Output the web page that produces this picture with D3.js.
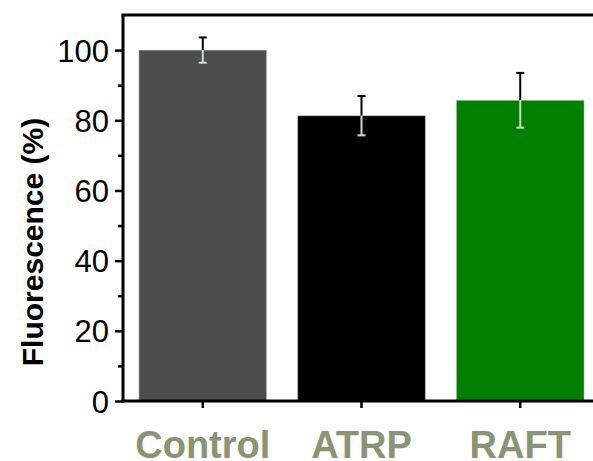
<!DOCTYPE html>
<html lang="en">
<head>
<meta charset="UTF-8">
<title>fluorescence bars</title>
<script src="https://cdnjs.cloudflare.com/ajax/libs/d3/7.8.5/d3.min.js"></script>
<style>
  * { margin: 0; padding: 0; }
  body { background: #fff; }
  svg { display: block; font-family: "Liberation Sans", Arial, sans-serif; }
</style>
</head>
<body>
<svg id="chart" width="593" height="461"></svg>
<script>
  // data
  var categories = ['Control', 'ATRP', 'RAFT'];
  var values = [100, 81.3, 85.7];
  var errors = [3.6, 5.6, 7.8];
  var barColors = ['#4d4d4d', '#000000', '#007f00'];
  var yTicks = [0, 20, 40, 60, 80, 100];
  var yMinorTicks = [10, 30, 50, 70, 90];

  var svg = d3.select('#chart');
  // note: "top" clashes with window.top, so use plot* names
  var plotLeft = 123, plotRight = 600, plotBottom = 401, plotTop = 15;

  var x = d3.scaleBand()
    .domain(categories)
    .range([plotLeft, plotRight])
    .paddingInner(0.195)
    .paddingOuter(0.1);

  var y = d3.scaleLinear()
    .domain([0, 110])
    .range([plotBottom, plotTop]);

  // bars
  svg.selectAll('rect.bar')
    .data(values)
    .enter()
    .append('rect')
    .attr('class', 'bar')
    .attr('x', function(d, i) { return x(categories[i]); })
    .attr('y', function(d) { return y(d); })
    .attr('width', x.bandwidth())
    .attr('height', function(d) { return y(0) - y(d); })
    .style('fill', function(d, i) { return barColors[i]; })
    .style('stroke', '#d8e4d0')
    .style('stroke-opacity', 0.5)
    .style('stroke-width', 1);

  // error bars: black above the bar, light inside it
  var capW = 4;
  var err = svg.selectAll('g.err')
    .data(values)
    .enter()
    .append('g')
    .attr('class', 'err')
    .attr('transform', function(d, i) {
      return 'translate(' + (x(categories[i]) + x.bandwidth() / 2) + ',0)';
    });

  err.append('line')
    .attr('x1', 0).attr('x2', 0)
    .attr('y1', function(d, i) { return y(d + errors[i]); })
    .attr('y2', function(d) { return y(d); })
    .style('stroke', '#000').style('stroke-width', 2);
  err.append('line')
    .attr('x1', -capW).attr('x2', capW)
    .attr('y1', function(d, i) { return y(d + errors[i]); })
    .attr('y2', function(d, i) { return y(d + errors[i]); })
    .style('stroke', '#000').style('stroke-width', 2);
  err.append('line')
    .attr('x1', 0).attr('x2', 0)
    .attr('y1', function(d) { return y(d); })
    .attr('y2', function(d, i) { return y(d - errors[i]); })
    .style('stroke', '#cadcc2').style('stroke-width', 2);
  err.append('line')
    .attr('x1', -capW).attr('x2', capW)
    .attr('y1', function(d, i) { return y(d - errors[i]); })
    .attr('y2', function(d, i) { return y(d - errors[i]); })
    .style('stroke', '#cadcc2').style('stroke-width', 2);

  // y axis, major + minor ticks
  var yAxis = svg.append('g')
    .attr('transform', 'translate(' + plotLeft + ',0)')
    .call(d3.axisLeft(y).tickValues(yTicks).tickSize(8).tickPadding(6));
  yAxis.select('.domain').remove();
  yAxis.selectAll('.tick line').style('stroke', '#000').style('stroke-width', 2.5);
  yAxis.selectAll('.tick text')
    .style('font-size', '31px')
    .style('fill', '#000')
    .attr('dy', '0.36em');

  var yMinor = svg.append('g')
    .attr('transform', 'translate(' + plotLeft + ',0)')
    .call(d3.axisLeft(y).tickValues(yMinorTicks).tickSize(5).tickFormat(''));
  yMinor.select('.domain').remove();
  yMinor.selectAll('.tick line').style('stroke', '#000').style('stroke-width', 2.5);

  // x axis
  var xAxis = svg.append('g')
    .attr('transform', 'translate(0,' + plotBottom + ')')
    .call(d3.axisBottom(x).tickSize(7).tickPadding(16));
  xAxis.select('.domain').remove();
  xAxis.selectAll('.tick line').style('stroke', '#000').style('stroke-width', 2.5);
  xAxis.selectAll('.tick text')
    .style('font-size', '38px')
    .style('font-weight', 'bold')
    .style('fill', '#8a9373')
    .attr('y', 57)
    .attr('dy', 0);

  // frame lines: left, bottom, top
  svg.append('line')
    .attr('x1', plotLeft).attr('x2', plotLeft)
    .attr('y1', plotTop).attr('y2', plotBottom + 1.5)
    .style('stroke', '#000').style('stroke-width', 3);
  svg.append('line')
    .attr('x1', plotLeft - 1.5).attr('x2', 593)
    .attr('y1', plotBottom).attr('y2', plotBottom)
    .style('stroke', '#000').style('stroke-width', 3);
  svg.append('line')
    .attr('x1', plotLeft - 1.5).attr('x2', 593)
    .attr('y1', plotTop).attr('y2', plotTop)
    .style('stroke', '#000').style('stroke-width', 3);

  // y title
  svg.append('text')
    .attr('transform', 'translate(43,242) rotate(-90)')
    .attr('text-anchor', 'middle')
    .style('font-size', '30px')
    .style('font-weight', 'bold')
    .style('fill', '#000')
    .text('Fluorescence (%)');
</script>
</body>
</html>
